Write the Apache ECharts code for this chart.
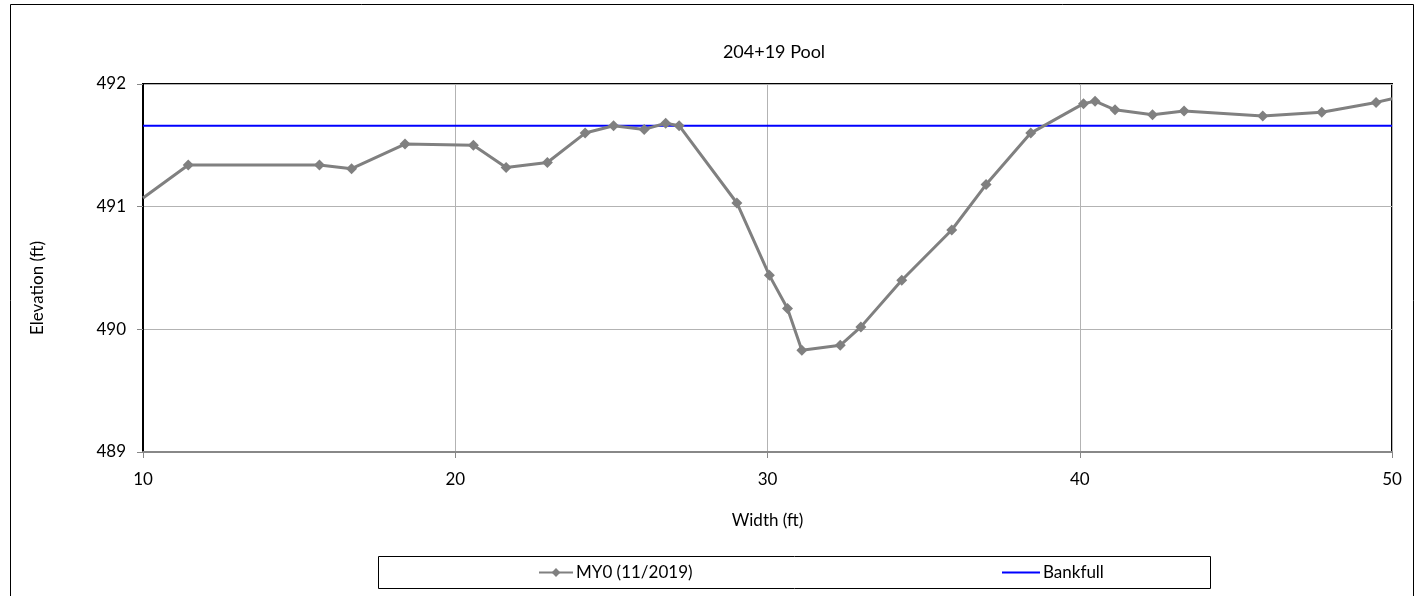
<!DOCTYPE html>
<html><head><meta charset="utf-8">
<script src="https://cdn.jsdelivr.net/npm/echarts@6/dist/echarts.min.js"></script>
<style>html,body{margin:0;padding:0;background:#fff}#c{width:1425px;height:596px}</style>
</head><body><div id="c"></div>
<script>
const titleText = '204+19 Pool';
const xName = 'Width (ft)';
const yName = 'Elevation (ft)';
const seriesNames = ['MY0 (11/2019)', 'Bankfull'];
const widths = [10.0, 11.45, 15.65, 16.68, 18.39, 20.58, 21.63, 22.95, 24.16, 25.07, 26.05, 26.74, 27.17, 29.02, 30.06, 30.64, 31.10, 32.33, 32.99, 34.30, 35.90, 37.00, 38.43, 40.12, 40.49, 41.13, 42.33, 43.34, 45.86, 47.75, 49.49, 50.0];
const elevations = [491.07, 491.34, 491.34, 491.31, 491.51, 491.50, 491.32, 491.36, 491.60, 491.66, 491.63, 491.68, 491.66, 491.03, 490.44, 490.17, 489.83, 489.87, 490.02, 490.40, 490.81, 491.18, 491.60, 491.84, 491.86, 491.79, 491.75, 491.78, 491.74, 491.77, 491.85, 491.88];
const bankfullX = [10, 50];
const bankfullY = [491.66, 491.66];
const xTicks = [10, 20, 30, 40, 50];
const yTicks = [489, 490, 491, 492];

const font = 'Lato, "Open Sans", sans-serif';
const fs = 17;
const myData = widths.map((x, i) => {
  const item = { value: [x, elevations[i]] };
  if (i === 0 || i === widths.length - 1) item.symbol = 'none';
  return item;
});
const bfData = bankfullX.map((x, i) => [x, bankfullY[i]]);

const chart = echarts.init(document.getElementById('c'));
chart.setOption({
  animation: false,
  backgroundColor: '#fff',
  title: { text: titleText, left: 769, textAlign: 'center', top: 38,
    textStyle: { fontFamily: font, fontSize: 18, fontWeight: 'normal', color: '#000' } },
  graphic: [
    { type: 'rect', shape: { x: 10.5, y: 4.5, width: 1403, height: 600 }, style: { fill: 'none', stroke: '#000', lineWidth: 1 } },
    { type: 'rect', shape: { x: 378.5, y: 556.5, width: 832, height: 32 }, style: { fill: 'none', stroke: '#000', lineWidth: 1 } },
    { type: 'text', x: 38, y: 288, rotation: Math.PI / 2,
      style: { text: yName, fontFamily: font, fontSize: fs, fill: '#000', textAlign: 'center', textVerticalAlign: 'middle' } }
  ],
  legend: [
    { left: 538, top: 564, padding: 0, itemWidth: 34, itemHeight: 11, itemGap: 5,
      textStyle: { fontFamily: font, fontSize: fs, color: '#000', padding: [0, 0, 0, -2] },
      data: [{ name: seriesNames[0] }] },
    { left: 1002, top: 564, padding: 0, itemWidth: 38, itemHeight: 2,
      textStyle: { fontFamily: font, fontSize: fs, color: '#000', padding: [0, 0, 0, -2] },
      data: [{ name: seriesNames[1], icon: 'rect' }] }
  ],
  grid: { left: 143, right: 33, top: 84, bottom: 144, show: true, borderColor: '#000', borderWidth: 2 },
  xAxis: {
    type: 'value', min: xTicks[0], max: xTicks[xTicks.length - 1], interval: 10,
    name: xName, nameLocation: 'middle', nameGap: 60,
    nameTextStyle: { fontFamily: font, fontSize: fs, color: '#000' },
    axisLine: { show: true, onZero: false, lineStyle: { color: '#888', width: 2 } },
    axisTick: { show: true, inside: false, length: 6, lineStyle: { color: '#888' } },
    axisLabel: { fontFamily: font, fontSize: fs, color: '#000', margin: 19 },
    splitLine: { show: true, lineStyle: { color: '#b3b3b3', width: 1 } }
  },
  yAxis: {
    type: 'value', min: yTicks[0], max: yTicks[yTicks.length - 1], interval: 1,
    axisLine: { show: true, lineStyle: { color: '#000', width: 2 } },
    axisTick: { show: true, inside: false, length: 6, lineStyle: { color: '#888' } },
    axisLabel: { fontFamily: font, fontSize: fs, color: '#000', margin: 17 },
    splitLine: { show: true, lineStyle: { color: '#b3b3b3', width: 1 } }
  },
  series: [
    { name: seriesNames[0], type: 'line', data: myData, symbol: 'diamond', symbolSize: 11,
      itemStyle: { color: '#808080' }, lineStyle: { color: '#808080', width: 3 }, z: 3 },
    { name: seriesNames[1], type: 'line', data: bfData, symbol: 'none',
      itemStyle: { color: '#0000ff' }, lineStyle: { color: '#0000ff', width: 2 }, z: 2 }
  ]
});
</script></body></html>
